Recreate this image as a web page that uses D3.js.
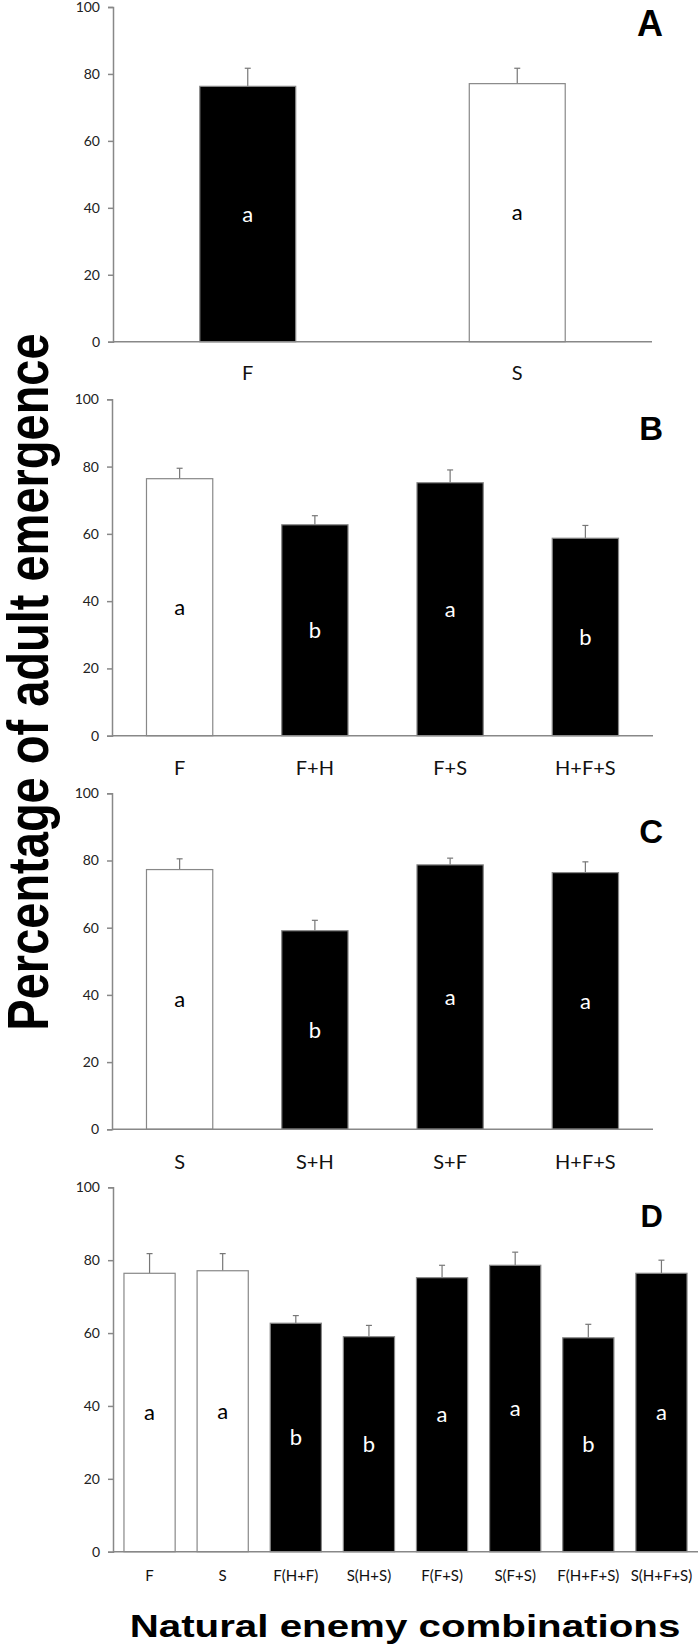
<!DOCTYPE html>
<html>
<head>
<meta charset="utf-8">
<script src="https://cdn.jsdelivr.net/npm/d3@7"></script>
<style>
  body { margin: 0; background: #fff; }
  svg { display: block; }
</style>
</head>
<body>
<svg id="chart"></svg>
<script>
// panel A
var catsA = ["F", "S"];
var valsA = [76.3, 77.1];
var seA = [5.4, 4.6];
var lettersA = ["a", "a"];
var fillsA = ["black", "white"];

// panel B
var catsB = ["F", "F+H", "F+S", "H+F+S"];
var valsB = [76.4, 62.7, 75.2, 58.7];
var seB = [3.1, 2.7, 3.8, 3.8];
var lettersB = ["a", "b", "a", "b"];
var fillsB = ["white", "black", "black", "black"];

// panel C
var catsC = ["S", "S+H", "S+F", "H+F+S"];
var valsC = [77.3, 59.1, 78.7, 76.4];
var seC = [3.2, 3.1, 2.0, 3.2];
var lettersC = ["a", "b", "a", "a"];
var fillsC = ["white", "black", "black", "black"];

// panel D
var catsD = ["F", "S", "F(H+F)", "S(H+S)", "F(F+S)", "S(F+S)", "F(H+F+S)", "S(H+F+S)"];
var valsD = [76.4, 77.1, 62.7, 59.0, 75.2, 78.6, 58.7, 76.4];
var seD = [5.4, 4.7, 2.1, 3.1, 3.4, 3.6, 3.7, 3.6];
var lettersD = ["a", "a", "b", "b", "a", "a", "b", "a"];
var fillsD = ["white", "white", "black", "black", "black", "black", "black", "black"];

var yTicks = [0, 20, 40, 60, 80, 100];

var width = 700, height = 1651;

var svg = d3.select("#chart")
    .attr("width", width)
    .attr("height", height);

function draw_panel(p) {
    var x = d3.scaleBand()
        .domain(p.cats)
        .range([p.left, p.right])
        .paddingInner(p.pad)
        .paddingOuter(p.pad / 2);

    var y = d3.scaleLinear()
        .domain([0, 100])
        .range([p.bottom, p.top]);

    var g = svg.append("g");

    var yAxis = d3.axisLeft(y)
        .tickValues(yTicks)
        .tickSize(5)
        .tickPadding(8);

    var ya = g.append("g")
        .attr("transform", "translate(" + p.left + ",0)")
        .call(yAxis);
    ya.select(".domain").attr("stroke", "#888").attr("stroke-width", 1.5);
    ya.selectAll(".tick line").attr("stroke", "#888").attr("stroke-width", 1.5);
    ya.selectAll(".tick text")
        .attr("fill", "#222")
        .style("font-family", "Lato, 'Liberation Sans', sans-serif")
        .style("font-size", "14px");

    var rows = p.cats.map(function(c, i) {
        return {cat: c, val: p.vals[i], se: p.se[i], letter: p.letters[i], fill: p.fills[i]};
    });

    // error bars (upper only)
    var eb = g.selectAll(".err").data(rows).enter().append("g");
    eb.append("line")
        .attr("x1", function(d) { return x(d.cat) + x.bandwidth() / 2; })
        .attr("x2", function(d) { return x(d.cat) + x.bandwidth() / 2; })
        .attr("y1", function(d) { return y(d.val); })
        .attr("y2", function(d) { return y(d.val + d.se); })
        .attr("stroke", "#777")
        .attr("stroke-width", 1.2);
    eb.append("line")
        .attr("x1", function(d) { return x(d.cat) + x.bandwidth() / 2 - 3; })
        .attr("x2", function(d) { return x(d.cat) + x.bandwidth() / 2 + 3; })
        .attr("y1", function(d) { return y(d.val + d.se); })
        .attr("y2", function(d) { return y(d.val + d.se); })
        .attr("stroke", "#777")
        .attr("stroke-width", 1.2);

    g.selectAll(".bar").data(rows).enter().append("rect")
        .attr("x", function(d) { return x(d.cat); })
        .attr("y", function(d) { return y(d.val); })
        .attr("width", x.bandwidth())
        .attr("height", function(d) { return y(0) - y(d.val); })
        .attr("fill", function(d) { return d.fill; })
        .attr("stroke", "#888")
        .attr("stroke-width", 1.2);

    // significance letters, half way up each bar
    g.selectAll(".letter").data(rows).enter().append("text")
        .attr("x", function(d) { return x(d.cat) + x.bandwidth() / 2; })
        .attr("y", function(d) { return y(d.val / 2); })
        .attr("text-anchor", "middle")
        .attr("dy", "0.35em")
        .attr("fill", function(d) { return d.fill == "black" ? "white" : "black"; })
        .style("font-family", "Lato, sans-serif")
        .style("font-size", "22px")
        .text(function(d) { return d.letter; });

    // x axis line, no ticks
    g.append("line")
        .attr("x1", p.left)
        .attr("x2", p.right)
        .attr("y1", y(0))
        .attr("y2", y(0))
        .attr("stroke", "#888")
        .attr("stroke-width", 1.5);

    g.selectAll(".cat").data(rows).enter().append("text")
        .attr("x", function(d) { return x(d.cat) + x.bandwidth() / 2; })
        .attr("y", y(0) + p.catOffset)
        .attr("text-anchor", "middle")
        .attr("fill", "#111")
        .style("font-family", "Lato, sans-serif")
        .style("font-size", p.catSize + "px")
        .text(function(d) { return d.cat; });

    g.append("text")
        .attr("x", 663)
        .attr("y", p.labelY)
        .attr("text-anchor", "end")
        .attr("fill", "black")
        .style("font-family", "'Liberation Sans', Arial, sans-serif")
        .style("font-weight", "bold")
        .style("font-size", p.labelSize + "px")
        .text(p.label);
}

draw_panel({cats: catsA, vals: valsA, se: seA, letters: lettersA, fills: fillsA,
    left: 113, right: 652, top: 7, bottom: 341.7, pad: 0.644,
    catOffset: 38.5, catSize: 20, label: "A", labelY: 36, labelSize: 36});

draw_panel({cats: catsB, vals: valsB, se: seB, letters: lettersB, fills: fillsB,
    left: 112, right: 653, top: 399.3, bottom: 735.7, pad: 0.51,
    catOffset: 39.5, catSize: 20, label: "B", labelY: 440, labelSize: 33});

draw_panel({cats: catsC, vals: valsC, se: seC, letters: lettersC, fills: fillsC,
    left: 112, right: 653, top: 793.3, bottom: 1129.3, pad: 0.51,
    catOffset: 39.5, catSize: 20, label: "C", labelY: 843, labelSize: 33});

draw_panel({cats: catsD, vals: valsD, se: seD, letters: lettersD, fills: fillsD,
    left: 113, right: 698, top: 1187.3, bottom: 1551.7, pad: 0.30,
    catOffset: 29, catSize: 15, label: "D", labelY: 1227, labelSize: 31});

// shared axis titles (the source figure stretches text sideways)
svg.append("text")
    .attr("transform", "translate(48,682) scale(1.23,1) rotate(-90)")
    .attr("text-anchor", "middle")
    .attr("fill", "black")
    .style("font-family", "'Liberation Sans', Arial, sans-serif")
    .style("font-weight", "bold")
    .style("font-size", "47px")
    .text("Percentage of adult emergence");

svg.append("text")
    .attr("transform", "translate(405,1637) scale(1.3,1)")
    .attr("text-anchor", "middle")
    .attr("fill", "black")
    .style("font-family", "'Liberation Sans', Arial, sans-serif")
    .style("font-weight", "bold")
    .style("font-size", "31px")
    .text("Natural enemy combinations");
</script>
</body>
</html>
